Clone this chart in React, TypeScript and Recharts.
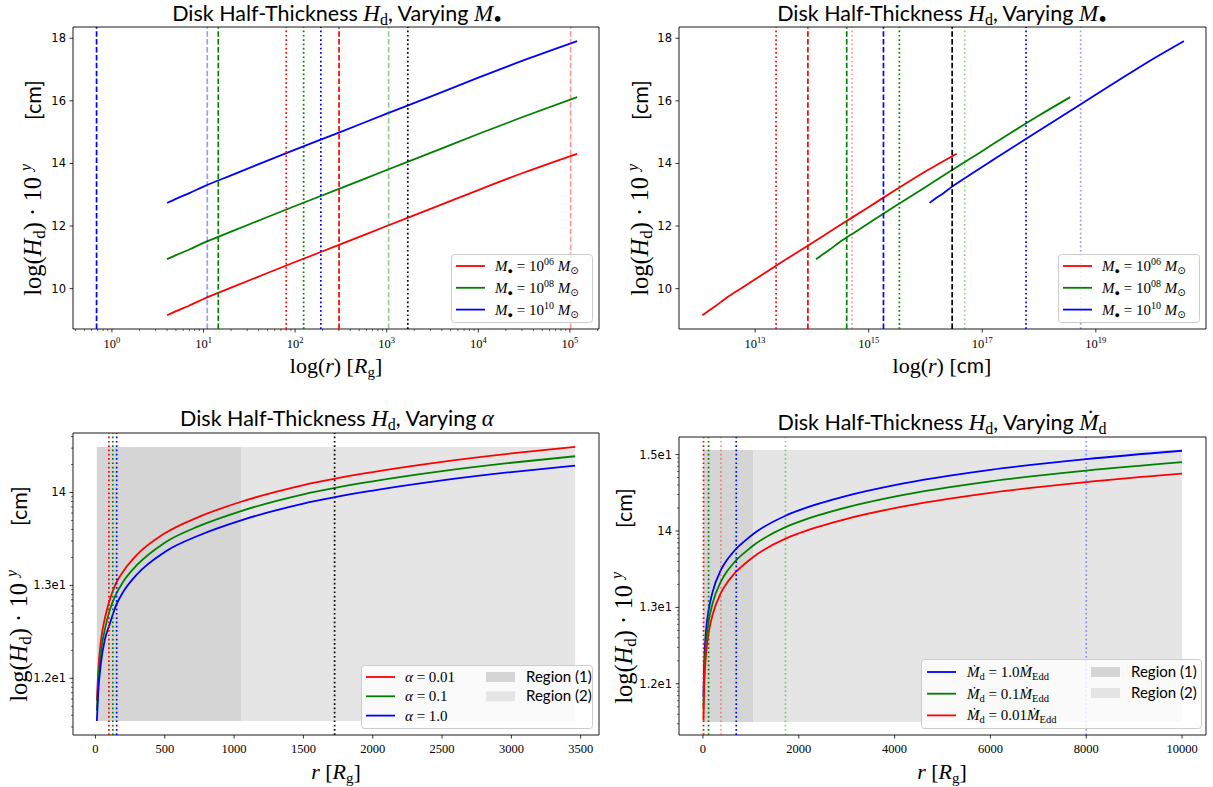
import React from 'react';
import { ComposedChart, Line, XAxis, YAxis, ReferenceLine, ReferenceArea } from 'recharts';

const SERIF = '"Liberation Serif", "Times New Roman", serif';
const SANS = 'Lato, "Open Sans", sans-serif';
const TSANS = '"DejaVu Sans", sans-serif';

// ---------------- data: panels 1 & 2 (varying mass) ----------------
const massExponents = ['06', '08', '10'];
const rRg = [4, 5, 7, 10, 20, 50, 100, 316, 1000, 3160, 10000, 31600, 120000];
const logH_M6 = [9.15, 9.28, 9.46, 9.67, 10.03, 10.5, 10.85, 11.42, 12.0, 12.57, 13.15, 13.71, 14.31];
const logH_M8 = [10.94, 11.07, 11.25, 11.46, 11.82, 12.29, 12.64, 13.21, 13.79, 14.36, 14.94, 15.5, 16.12];
const logH_M10 = [12.74, 12.87, 13.05, 13.26, 13.62, 14.09, 14.44, 15.01, 15.59, 16.16, 16.74, 17.3, 17.91];
const rCm_M6 = [1.18e12, 1.48e12, 2.07e12, 2.95e12, 5.9e12, 1.48e13, 2.95e13, 9.3e13, 2.95e14, 9.3e14, 2.95e15, 9.3e15, 3.54e16];
const rCm_M8 = [1.18e14, 1.48e14, 2.07e14, 2.95e14, 5.9e14, 1.48e15, 2.95e15, 9.3e15, 2.95e16, 9.3e16, 2.95e17, 9.3e17, 3.54e18];
const rCm_M10 = [1.18e16, 1.48e16, 2.07e16, 2.95e16, 5.9e16, 1.48e17, 2.95e17, 9.3e17, 2.95e18, 9.3e18, 2.95e19, 9.3e19, 3.54e20];

const topYTicks = [10, 12, 14, 16, 18];
const p1XMajor = [1, 10, 100, 1000, 10000, 100000];
const p2XMajor = [1e13, 1e15, 1e17, 1e19];
const p1Marks = [0.68, 11, 14.5, 80, 124, 191, 302, 1050, 1700, 102000];
const p2Marks = [2.34e13, 8.5e13, 4.1e14, 5.1e14, 1.82e15, 3.47e15, 2.95e16, 4.9e16, 5.9e17, 5.4e18];

// ---------------- data: panel 3 (varying alpha) ----------------
const alphaLabels = ['0.01', '0.1', '1.0'];
const rAlpha = [10, 20, 40, 70, 100, 150, 200, 300, 500, 750, 1050, 1500, 2000, 2500, 3000, 3460];
const logH_a001 = [11.76, 12.08, 12.41, 12.66, 12.83, 13.03, 13.15, 13.33, 13.56, 13.74, 13.9, 14.08, 14.22, 14.33, 14.42, 14.49];
const logH_a01 = [11.65, 11.96, 12.29, 12.54, 12.72, 12.91, 13.04, 13.22, 13.46, 13.64, 13.8, 13.98, 14.12, 14.23, 14.32, 14.39];
const logH_a1 = [11.54, 11.85, 12.17, 12.43, 12.57, 12.79, 12.93, 13.12, 13.36, 13.54, 13.7, 13.88, 14.02, 14.13, 14.22, 14.29];
const p3Marks = [97, 125, 153, 1725];
const p3Region1 = [10, 1050];
const p3Region2 = [1050, 3460];
const p3RegionY = [11.54, 14.49];
const p3XTicks = [0, 500, 1000, 1500, 2000, 2500, 3000, 3500];
const p3YTicks = [12, 13, 14];

// ---------------- data: panel 4 (varying accretion rate) ----------------
const mdotLabels = ['1.0', '0.1', '0.01'];
const rMdot = [10, 20, 40, 70, 117, 200, 375, 500, 600, 695, 800, 950, 1050, 1723, 2000, 3000, 4000, 6000, 8000, 10000];
const logH_m1 = [11.83, 12.15, 12.47, 12.73, 12.96, 13.2, 13.49, 13.62, 13.7, 13.77, 13.83, 13.91, 13.96, 14.2, 14.27, 14.46, 14.6, 14.8, 14.94, 15.05];
const logH_m01 = [11.68, 12.0, 12.32, 12.58, 12.81, 13.05, 13.34, 13.47, 13.55, 13.62, 13.68, 13.76, 13.81, 14.05, 14.12, 14.31, 14.45, 14.65, 14.79, 14.9];
const logH_m001 = [11.52, 11.85, 12.17, 12.43, 12.66, 12.9, 13.19, 13.32, 13.4, 13.47, 13.53, 13.61, 13.66, 13.9, 13.97, 14.16, 14.3, 14.5, 14.64, 14.75];
const p4Marks = [12, 117, 375, 695, 1722, 8000];
const p4Region1 = [10, 1050];
const p4Region2 = [1050, 10000];
const p4RegionY = [11.5, 15.06];
const p4XTicks = [0, 2000, 4000, 6000, 8000, 10000];
const p4YTicks = [12, 13, 14, 15];
const logYTickText: Record<number, string> = { 12: '1.2e1', 13: '1.3e1', 14: '14', 15: '1.5e1' };

// ---------------- styles ----------------
const RED = '#ff0000', GREEN = '#008000', BLUE = '#0000ff', BLACK = '#000000';
type MS = { c: string; d: 'dash' | 'dot'; o: number };
const p1MarkStyle: MS[] = [
  { c: BLUE, d: 'dash', o: 1 }, { c: BLUE, d: 'dash', o: 0.4 }, { c: GREEN, d: 'dash', o: 1 },
  { c: RED, d: 'dot', o: 1 }, { c: GREEN, d: 'dot', o: 1 }, { c: BLUE, d: 'dot', o: 1 },
  { c: RED, d: 'dash', o: 1 }, { c: GREEN, d: 'dash', o: 0.4 }, { c: BLACK, d: 'dot', o: 1 },
  { c: RED, d: 'dash', o: 0.4 },
];
const p2MarkStyle: MS[] = [
  { c: RED, d: 'dot', o: 1 }, { c: RED, d: 'dash', o: 1 }, { c: GREEN, d: 'dash', o: 1 },
  { c: RED, d: 'dot', o: 0.4 }, { c: BLUE, d: 'dash', o: 1 }, { c: GREEN, d: 'dot', o: 1 },
  { c: BLACK, d: 'dash', o: 1 }, { c: GREEN, d: 'dot', o: 0.4 }, { c: BLUE, d: 'dot', o: 1 },
  { c: BLUE, d: 'dot', o: 0.4 },
];
const p3MarkStyle: MS[] = [
  { c: RED, d: 'dot', o: 1 }, { c: GREEN, d: 'dot', o: 1 }, { c: BLUE, d: 'dot', o: 1 }, { c: BLACK, d: 'dot', o: 1 },
];
const p4MarkStyle: MS[] = [
  { c: RED, d: 'dot', o: 1 }, { c: GREEN, d: 'dot', o: 1 }, { c: RED, d: 'dot', o: 0.4 },
  { c: BLUE, d: 'dot', o: 1 }, { c: GREEN, d: 'dot', o: 0.4 }, { c: BLUE, d: 'dot', o: 0.4 },
];
const REGION1 = '#d5d5d5';
const REGION2 = '#e5e5e5';

// minor tick helpers (standard log locator positions)
const logMinorsLinear = (lo: number, hi: number) => {
  const out: number[] = [];
  for (let e = Math.floor(Math.log10(lo)); e <= Math.ceil(Math.log10(hi)); e++) {
    for (let k = 1; k <= 9; k++) {
      const v = k * Math.pow(10, e);
      if (v >= lo && v <= hi) out.push(v);
    }
  }
  return out;
};
const logMinorsExp = (lo: number, hi: number) => {
  const out: number[] = [];
  for (let e = Math.floor(lo); e <= Math.ceil(hi); e++) {
    for (let k = 1; k <= 9; k++) {
      const v = e + Math.log10(k);
      if (v >= lo && v <= hi) out.push(v);
    }
  }
  return out;
};

const zip = (xs: number[], ys: number[]) => xs.map((x, i) => ({ x, y: ys[i] }));

type SeriesDef = { xs: number[]; ys: number[]; color: string };

const xLogTick = (majors: number[], showMinor: boolean) => (p: any) => {
  const v = p.payload.value;
  const isMajor = majors.some((m) => Math.abs(m - v) / m < 1e-9);
  if (!isMajor && !showMinor) return <g />;
  const exp = Math.round(Math.log10(v));
  return (
    <g>
      <line x1={p.x} x2={p.x} y1={p.y} y2={p.y + (isMajor ? 3.5 : 2)} stroke="#000" strokeWidth={isMajor ? 0.8 : 0.6} />
      {isMajor && (
        <text x={p.x} y={p.y + 19} textAnchor="middle" fontFamily={SERIF} fontSize={12.5} fill="#000">
          10<tspan dy={-5} fontSize={8.5}>{exp}</tspan>
        </text>
      )}
    </g>
  );
};

const xLinTick = (p: any) => (
  <g>
    <line x1={p.x} x2={p.x} y1={p.y} y2={p.y + 3.5} stroke="#000" strokeWidth={0.8} />
    <text x={p.x} y={p.y + 18} textAnchor="middle" fontFamily={SERIF} fontSize={12.5} fill="#000">
      {p.payload.value}
    </text>
  </g>
);

const yLinTick = (p: any) => (
  <g>
    <line x1={p.x - 3.5} x2={p.x} y1={p.y} y2={p.y} stroke="#000" strokeWidth={0.8} />
    <text x={p.x - 7} y={p.y + 4} textAnchor="end" fontFamily={TSANS} fontSize={11.5} fill="#000">
      {p.payload.value}
    </text>
  </g>
);

const yLogTick = (majors: number[]) => (p: any) => {
  const v = p.payload.value;
  const isMajor = majors.some((m) => Math.abs(m - v) < 1e-9);
  return (
    <g>
      <line x1={p.x - (isMajor ? 3.5 : 2)} x2={p.x} y1={p.y} y2={p.y} stroke="#000" strokeWidth={isMajor ? 0.8 : 0.6} />
      {isMajor && (
        <text x={p.x - 7} y={p.y + 4} textAnchor="end" fontFamily={TSANS} fontSize={11.5} fill="#000">
          {logYTickText[v]}
        </text>
      )}
    </g>
  );
};

type PanelProps = {
  left: number; top: number; width: number; height: number;
  mTop: number; mRight: number; yW: number; xH: number;
  xDomain: [number, number]; yDomain: [number, number]; xLog: boolean;
  xTicks: number[]; xTick: any; yTicks: number[]; yTick: any;
  series: SeriesDef[]; marks: number[]; markStyles: MS[];
  regions: { x: number[]; y: number[]; fill: string }[];
};

function PanelChart(props: PanelProps) {
  const { left, top, width, height, mTop, mRight, yW, xH, xDomain, yDomain, xLog, xTicks, xTick, yTicks, yTick, series, marks, markStyles, regions } = props;
  return (
    <div style={{ position: 'absolute', left, top, width, height }}>
      <ComposedChart width={width} height={height} margin={{ top: mTop, right: mRight, bottom: 0, left: 0 }}>
        <XAxis
          type="number" dataKey="x" scale={xLog ? 'log' : 'linear'} domain={xDomain} allowDataOverflow
          ticks={xTicks} interval={0} tick={xTick} tickLine={false} axisLine={false} tickSize={0} tickMargin={0} height={xH}
        />
        <YAxis
          type="number" dataKey="y" domain={yDomain} allowDataOverflow
          ticks={yTicks} interval={0} tick={yTick} tickLine={false} axisLine={false} tickSize={0} tickMargin={0} width={yW}
        />
        {regions.map((r, i) => (
          <ReferenceArea key={'r' + i} x1={r.x[0]} x2={r.x[1]} y1={r.y[0]} y2={r.y[1]} fill={r.fill} fillOpacity={1} stroke="none" ifOverflow="visible" />
        ))}
        {series.map((s, i) => (
          <Line key={'s' + i} data={zip(s.xs, s.ys)} dataKey="y" type="monotone" stroke={s.color} strokeWidth={1.8} dot={false} activeDot={false} isAnimationActive={false} />
        ))}
        {marks.map((m, i) => {
          const st = markStyles[i];
          return (
            <ReferenceLine key={'m' + i} x={m} stroke={st.c} strokeOpacity={st.o} strokeWidth={1.7} strokeDasharray={st.d === 'dash' ? '5.5 2.4' : '1.7 2.6'} />
          );
        })}
        <ReferenceArea x1={xDomain[0]} x2={xDomain[1]} y1={yDomain[0]} y2={yDomain[1]} fill="none" stroke="#000" strokeWidth={0.9} ifOverflow="visible" />
      </ComposedChart>
    </div>
  );
}

// ---------------- overlay text helpers ----------------
const TitleText = ({ cx, y, variant }: { cx: number; y: number; variant: 'M' | 'a' | 'mdot' }) => (
  <text x={cx} y={y} textAnchor="middle" fontFamily={SANS} fontSize={21.5} fill="#000" style={{ whiteSpace: 'pre' }}>
    Disk Half-Thickness <tspan fontFamily={SERIF} fontStyle="italic" fontSize={23}>H</tspan>
    <tspan fontFamily={SERIF} fontSize={16} dy={4}>d</tspan>
    <tspan dy={-4}>, Varying </tspan>
    {variant === 'M' && (
      <>
        <tspan fontFamily={SERIF} fontStyle="italic" fontSize={23}>M</tspan>
        <tspan fontSize={15} dy={3}>•</tspan>
      </>
    )}
    {variant === 'a' && <tspan fontFamily={SERIF} fontStyle="italic" fontSize={23}>α</tspan>}
    {variant === 'mdot' && (
      <>
        <tspan fontFamily={SERIF} fontStyle="italic" fontSize={23}>{'M\u0307'}</tspan>
        <tspan fontFamily={SERIF} fontSize={16} dy={4}>d</tspan>
      </>
    )}
  </text>
);

const YLabel = ({ x, cy }: { x: number; cy: number }) => (
  <text transform={`translate(${x},${cy}) rotate(-90)`} textAnchor="middle" fontFamily={SERIF} fontSize={24.5} fill="#000" style={{ whiteSpace: 'pre' }}>
    log(<tspan fontStyle="italic">H</tspan>
    <tspan fontSize={17} dy={4}>d</tspan>
    <tspan dy={-4}>) · 10 </tspan>
    <tspan fontSize={16} dy={-10} fontStyle="italic">y</tspan>
    <tspan dy={10} dx={44} fontFamily={SANS} fontSize={21.5}>[cm]</tspan>
  </text>
);

const XLabelRg = ({ cx, y, withLog }: { cx: number; y: number; withLog: boolean }) => (
  <text x={cx} y={y} textAnchor="middle" fontFamily={SERIF} fontSize={22} fill="#000" style={{ whiteSpace: 'pre' }}>
    {withLog ? 'log(' : ''}
    <tspan fontStyle="italic">r</tspan>
    {withLog ? ')' : ''} [<tspan fontStyle="italic">R</tspan>
    <tspan fontSize={15} dy={4}>g</tspan>
    <tspan dy={-4}>]</tspan>
  </text>
);

const XLabelCm = ({ cx, y }: { cx: number; y: number }) => (
  <text x={cx} y={y} textAnchor="middle" fontFamily={SERIF} fontSize={22} fill="#000" style={{ whiteSpace: 'pre' }}>
    log(<tspan fontStyle="italic">r</tspan>) [<tspan fontFamily={SANS} fontSize={21}>cm</tspan>]
  </text>
);

const LegendFrame = ({ x, y, w, h }: { x: number; y: number; w: number; h: number }) => (
  <rect x={x + 0.5} y={y + 0.5} width={w} height={h} rx={3} fill="#ffffff" fillOpacity={0.8} stroke="#cccccc" strokeWidth={1} />
);

const LegendLine = ({ x, y, color }: { x: number; y: number; color: string }) => (
  <line x1={x} x2={x + 29} y1={y} y2={y} stroke={color} strokeWidth={1.8} />
);

const MassLegend = ({ x, y }: { x: number; y: number }) => {
  const colors = [RED, GREEN, BLUE];
  return (
    <g>
      <LegendFrame x={x} y={y} w={141} h={68} />
      {massExponents.map((e, i) => {
        const ry = y + 12 + i * 21.8;
        return (
          <g key={e}>
            <LegendLine x={x + 5} y={ry} color={colors[i]} />
            <text x={x + 44} y={ry + 5} fontFamily={SERIF} fontSize={15} fill="#000" style={{ whiteSpace: 'pre' }}>
              <tspan fontStyle="italic">M</tspan>
              <tspan fontSize={9} dy={3}>●</tspan>
              <tspan dy={-3}> = 10</tspan>
              <tspan fontSize={10} dy={-6}>{e}</tspan>
              <tspan dy={6}> </tspan>
              <tspan fontStyle="italic">M</tspan>
              <tspan fontSize={10} dy={3} fontFamily='"DejaVu Sans", sans-serif'>⊙</tspan>
            </text>
          </g>
        );
      })}
    </g>
  );
};

const RegionEntries = ({ x, y, dy }: { x: number; y: number; dy: number }) => (
  <g>
    {[REGION1, REGION2].map((f, i) => (
      <g key={f}>
        <rect x={x} y={y + i * dy - 5} width={29} height={10} fill={f} />
        <text x={x + 40} y={y + i * dy + 5} fontFamily={SANS} fontSize={15} fill="#000">
          Region ({i + 1})
        </text>
      </g>
    ))}
  </g>
);

const AlphaLegend = ({ x, y }: { x: number; y: number }) => {
  const colors = [RED, GREEN, BLUE];
  return (
    <g>
      <LegendFrame x={x} y={y} w={231} h={63} />
      {alphaLabels.map((a, i) => {
        const ry = y + 12 + i * 19.3;
        return (
          <g key={a}>
            <LegendLine x={x + 5} y={ry} color={colors[i]} />
            <text x={x + 44} y={ry + 5} fontFamily={SERIF} fontSize={15} fill="#000" style={{ whiteSpace: 'pre' }}>
              <tspan fontStyle="italic">α</tspan> = {a}
            </text>
          </g>
        );
      })}
      <RegionEntries x={x + 125} y={y + 12} dy={19.3} />
    </g>
  );
};

const MdotLegend = ({ x, y }: { x: number; y: number }) => {
  const colors = [BLUE, GREEN, RED];
  return (
    <g>
      <LegendFrame x={x} y={y} w={280} h={69} />
      {mdotLabels.map((m, i) => {
        const ry = y + 13 + i * 21.7;
        return (
          <g key={m}>
            <LegendLine x={x + 6} y={ry} color={colors[i]} />
            <text x={x + 46} y={ry + 5} fontFamily={SERIF} fontSize={15} fill="#000" style={{ whiteSpace: 'pre' }}>
              <tspan fontStyle="italic">{'M\u0307'}</tspan>
              <tspan fontSize={10.5} dy={3}>d</tspan>
              <tspan dy={-3}> = {m}</tspan>
              <tspan fontStyle="italic">{'M\u0307'}</tspan>
              <tspan fontSize={10.5} dy={3}>Edd</tspan>
            </text>
          </g>
        );
      })}
      <RegionEntries x={x + 170} y={y + 13} dy={21} />
    </g>
  );
};

export default function App() {
  const p1Minor = logMinorsLinear(0.376, 208000);
  const p3Minor = logMinorsExp(11.39, 14.64);
  const p4Minor = logMinorsExp(11.33, 15.23);
  return (
    <div style={{ position: 'absolute', left: 0, top: 0, width: 1213, height: 787, background: '#ffffff', overflow: 'hidden' }}>
      <PanelChart
        left={0} top={0} width={606} height={393} mTop={27} mRight={7} yW={73} xH={64}
        xDomain={[0.376, 208000]} yDomain={[8.71, 18.36]} xLog
        xTicks={p1Minor} xTick={xLogTick(p1XMajor, true)} yTicks={topYTicks} yTick={yLinTick}
        series={[
          { xs: rRg, ys: logH_M6, color: RED },
          { xs: rRg, ys: logH_M8, color: GREEN },
          { xs: rRg, ys: logH_M10, color: BLUE },
        ]}
        marks={p1Marks} markStyles={p1MarkStyle} regions={[]}
      />
      <PanelChart
        left={606} top={0} width={607} height={393} mTop={27} mRight={7} yW={73} xH={64}
        xDomain={[4.57e11, 8.7e20]} yDomain={[8.71, 18.36]} xLog
        xTicks={p2XMajor} xTick={xLogTick(p2XMajor, false)} yTicks={topYTicks} yTick={yLinTick}
        series={[
          { xs: rCm_M6, ys: logH_M6, color: RED },
          { xs: rCm_M8, ys: logH_M8, color: GREEN },
          { xs: rCm_M10, ys: logH_M10, color: BLUE },
        ]}
        marks={p2Marks} markStyles={p2MarkStyle} regions={[]}
      />
      <PanelChart
        left={0} top={393} width={606} height={394} mTop={40} mRight={7} yW={73} xH={52}
        xDomain={[-162, 3632]} yDomain={[11.39, 14.64]} xLog={false}
        xTicks={p3XTicks} xTick={xLinTick} yTicks={[...p3YTicks, ...p3Minor.filter((v) => !p3YTicks.includes(v))]} yTick={yLogTick(p3YTicks)}
        series={[
          { xs: rAlpha, ys: logH_a001, color: RED },
          { xs: rAlpha, ys: logH_a01, color: GREEN },
          { xs: rAlpha, ys: logH_a1, color: BLUE },
        ]}
        marks={p3Marks} markStyles={p3MarkStyle}
        regions={[
          { x: p3Region1, y: p3RegionY, fill: REGION1 },
          { x: p3Region2, y: p3RegionY, fill: REGION2 },
        ]}
      />
      <PanelChart
        left={606} top={393} width={607} height={394} mTop={44} mRight={7} yW={73} xH={52}
        xDomain={[-500, 10500]} yDomain={[11.33, 15.23]} xLog={false}
        xTicks={p4XTicks} xTick={xLinTick} yTicks={[...p4YTicks, ...p4Minor.filter((v) => !p4YTicks.includes(v))]} yTick={yLogTick(p4YTicks)}
        series={[
          { xs: rMdot, ys: logH_m1, color: BLUE },
          { xs: rMdot, ys: logH_m01, color: GREEN },
          { xs: rMdot, ys: logH_m001, color: RED },
        ]}
        marks={p4Marks} markStyles={p4MarkStyle}
        regions={[
          { x: p4Region1, y: p4RegionY, fill: REGION1 },
          { x: p4Region2, y: p4RegionY, fill: REGION2 },
        ]}
      />
      <svg width={1213} height={787} style={{ position: 'absolute', left: 0, top: 0, pointerEvents: 'none' }}>
        <TitleText cx={337} y={21} variant="M" />
        <TitleText cx={942} y={21} variant="M" />
        <TitleText cx={337} y={426} variant="a" />
        <TitleText cx={942} y={430} variant="mdot" />

        <YLabel x={41} cy={188} />
        <YLabel x={648} cy={188} />
        <YLabel x={27} cy={594} />
        <YLabel x={632} cy={596} />

        <XLabelRg cx={336} y={373} withLog />
        <XLabelCm cx={942} y={373} />
        <XLabelRg cx={336} y={779} withLog={false} />
        <XLabelRg cx={942} y={779} withLog={false} />

        <MassLegend x={451} y={254} />
        <MassLegend x={1058} y={254} />
        <AlphaLegend x={361} y={665} />
        <MdotLegend x={921} y={659} />
      </svg>
    </div>
  );
}
